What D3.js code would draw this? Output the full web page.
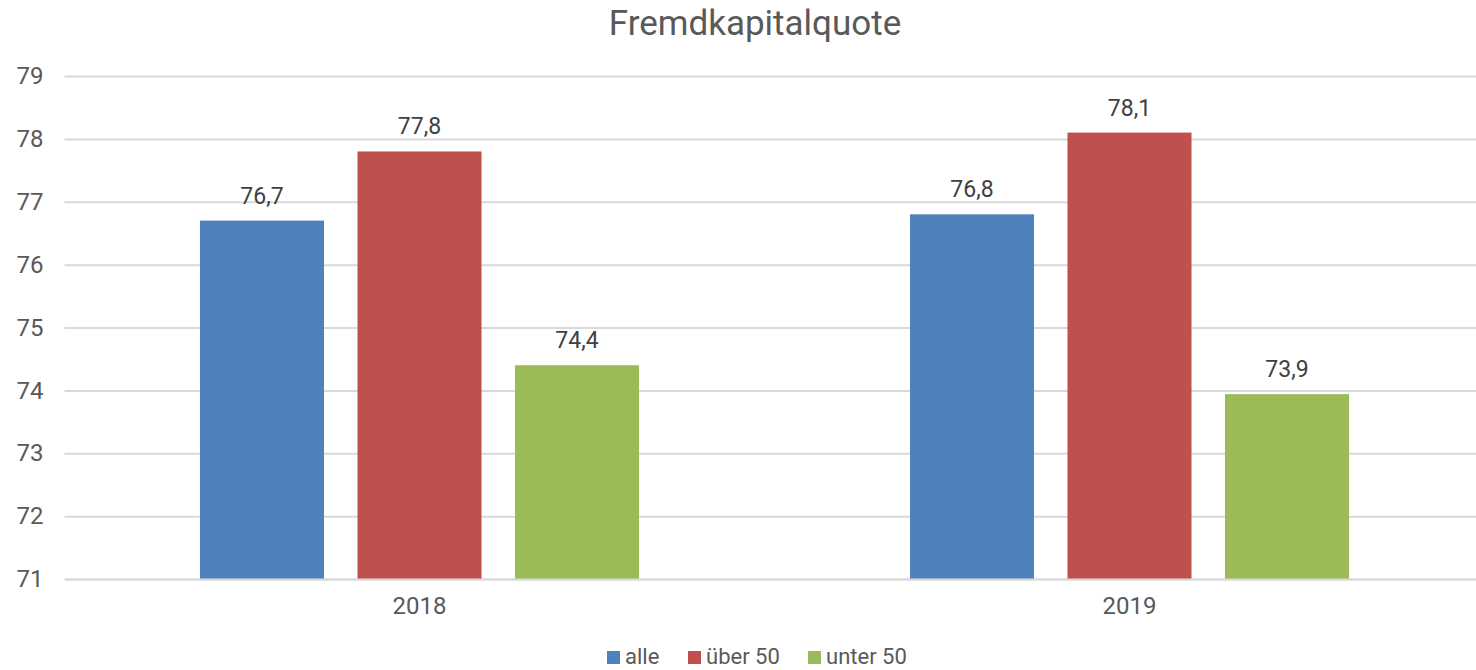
<!DOCTYPE html>
<html>
<head>
<meta charset="utf-8">
<script src="https://cdn.jsdelivr.net/npm/d3@7"></script>
<style>
  body { margin: 0; background: #fff; }
  text { font-family: Roboto, "Liberation Sans", sans-serif; }
</style>
</head>
<body>
<div id="chart-area"></div>
<script>
// chart size
var width = 1476,
	height = 670;

// data
var years = ["2018", "2019"];
var series = ["alle", "über 50", "unter 50"];
var alle = [76.7, 76.8];
var ueber50 = [77.8, 78.1];
var unter50 = [74.4, 73.94];
var yTicks = [71, 72, 73, 74, 75, 76, 77, 78, 79];
var colors = ["#4F81BD", "#C0504D", "#9BBB59"];

var values = [alle, ueber50, unter50];

// rows for the bars
var rows = [];
years.forEach(function(y, i){
	series.forEach(function(s, j){
		rows.push({year: y, series: s, value: values[j][i]});
	});
});

var svg = d3.select("#chart-area").append("svg")
	.attr("width", width)
	.attr("height", height);

var yScale = d3.scaleLinear()
	.domain([71, 79])
	.range([579, 76]);

var x0 = d3.scaleBand()
	.domain(years)
	.range([64.5, 1484.5])
	.paddingInner(0)
	.paddingOuter(0);

var x1 = d3.scaleBand()
	.domain(series)
	.range([0, x0.bandwidth()])
	.paddingInner(0.2127)
	.paddingOuter(0.86);

var color = d3.scaleOrdinal().domain(series).range(colors);

// gridlines + y labels
var yAxis = d3.axisLeft(yScale)
	.tickValues(yTicks)
	.tickSize(-(1484.5 - 64.5))
	.tickPadding(21)
	.tickFormat(d3.format("d"));

var gy = svg.append("g")
	.attr("class", "yAxis")
	.attr("transform", "translate(64.5,0)")
	.call(yAxis);
gy.select(".domain").remove();
gy.selectAll("line")
	.attr("stroke", "#d9d9d9")
	.attr("stroke-width", 2);
gy.selectAll("text")
	.attr("fill", "#595959")
	.style("font-size", "24px");

// bars
svg.append("g").selectAll("rect")
	.data(rows)
	.enter()
	.append("rect")
	.attr("x", function(d){ return x0(d.year) + x1(d.series); })
	.attr("y", function(d){ return yScale(d.value); })
	.attr("width", x1.bandwidth())
	.attr("height", function(d){ return yScale(71) - yScale(d.value); })
	.attr("fill", function(d){ return color(d.series); });

// value labels
var fmt = function(v){ return d3.format(".1f")(v).replace(".", ","); };
svg.append("g").selectAll("text")
	.data(rows)
	.enter()
	.append("text")
	.attr("x", function(d){ return x0(d.year) + x1(d.series) + x1.bandwidth() / 2; })
	.attr("y", function(d){ return yScale(d.value) - 17; })
	.attr("text-anchor", "middle")
	.attr("fill", "#404040")
	.style("font-size", "23px")
	.text(function(d){ return fmt(d.value); });

// x axis (baseline + year labels)
var xAxis = d3.axisBottom(x0).tickSize(0).tickPadding(18);
var gx = svg.append("g")
	.attr("class", "xAxis")
	.attr("transform", "translate(0," + yScale(71) + ")")
	.call(xAxis);
gx.select(".domain")
	.attr("stroke", "#d9d9d9")
	.attr("stroke-width", 2);
gx.selectAll("text")
	.attr("fill", "#595959")
	.style("font-size", "24px");

// title
svg.append("text")
	.attr("x", 755)
	.attr("y", 35)
	.attr("text-anchor", "middle")
	.attr("fill", "#595959")
	.style("font-size", "35px")
	.text("Fremdkapitalquote");

// legend
var legendX = [607, 688, 808];
var legend = svg.append("g").selectAll("g")
	.data(series)
	.enter()
	.append("g")
	.attr("transform", function(d, i){ return "translate(" + legendX[i] + ",651)"; });
legend.append("rect")
	.attr("width", 13)
	.attr("height", 13)
	.attr("fill", function(d){ return color(d); });
legend.append("text")
	.attr("x", 18)
	.attr("y", 13)
	.attr("fill", "#595959")
	.style("font-size", "22px")
	.text(function(d){ return d; });
</script>
</body>
</html>
